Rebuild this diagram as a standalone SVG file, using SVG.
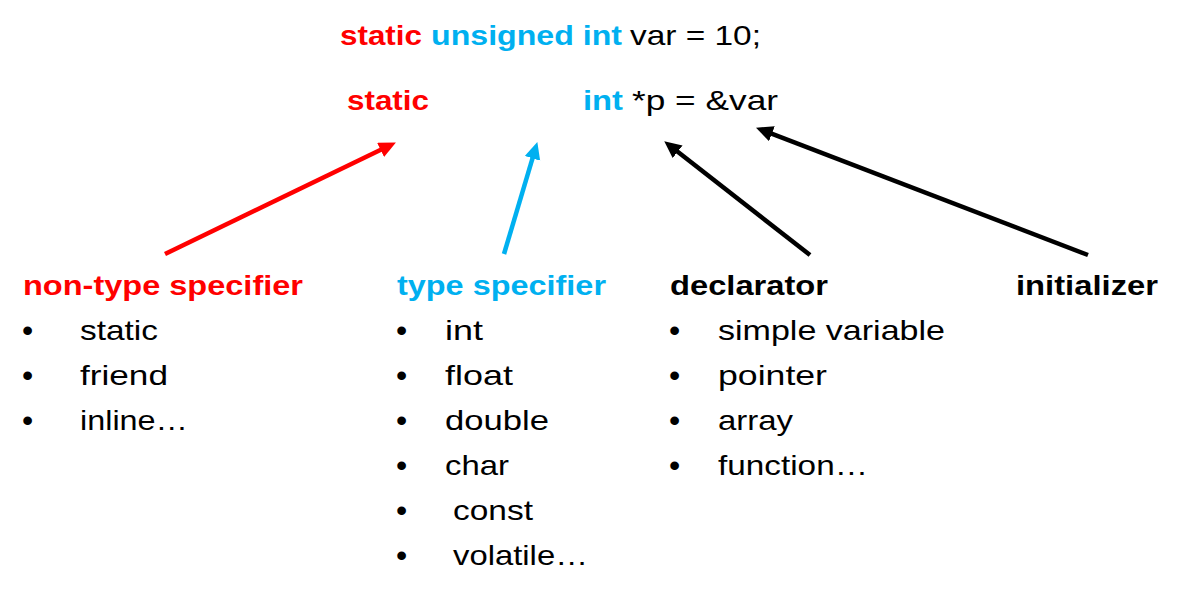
<svg xmlns="http://www.w3.org/2000/svg" width="1182" height="600" viewBox="0 0 1182 600">
<style>
text{font-family:"Liberation Sans","Open Sans",sans-serif;font-size:28px;fill:#000}
.b{font-weight:bold}
.r{fill:#FF0000}
.c{fill:#00B0F0}
.bu{font-size:32px}
.ln{stroke-width:4.5;fill:none}
</style>
<defs>
<marker id="ar" markerUnits="userSpaceOnUse" markerWidth="20" markerHeight="18" refX="6" refY="8" orient="auto"><path d="M0,0 L17,8 L0,16 z" fill="#FF0000"/></marker>
<marker id="ac" markerUnits="userSpaceOnUse" markerWidth="20" markerHeight="18" refX="6" refY="8" orient="auto"><path d="M0,0 L17,8 L0,16 z" fill="#00B0F0"/></marker>
<marker id="ak" markerUnits="userSpaceOnUse" markerWidth="20" markerHeight="18" refX="6" refY="8" orient="auto"><path d="M0,0 L17,8 L0,16 z" fill="#000"/></marker>
</defs>
<g id="line1">
<text x="340" y="45" class="b r" textLength="82" lengthAdjust="spacingAndGlyphs">static</text>
<text x="431" y="45" class="b c" textLength="191" lengthAdjust="spacingAndGlyphs">unsigned int</text>
<text x="630" y="45" textLength="131" lengthAdjust="spacingAndGlyphs">var = 10;</text>
</g>
<g id="line2">
<text x="347" y="110" class="b r" textLength="82" lengthAdjust="spacingAndGlyphs">static</text>
<text x="583" y="110" class="b c" textLength="40" lengthAdjust="spacingAndGlyphs">int</text>
<text x="632" y="110" textLength="146" lengthAdjust="spacingAndGlyphs">*p = &amp;var</text>
</g>
<g id="connectors">
<line class="ln" x1="165" y1="254" x2="386" y2="147.3" stroke="#FF0000" marker-end="url(#ar)"/>
<line class="ln" x1="504" y1="254" x2="534.2" y2="152.6" stroke="#00B0F0" marker-end="url(#ac)"/>
<line class="ln" x1="810" y1="255" x2="672.9" y2="148.1" stroke="#000" marker-end="url(#ak)"/>
<line class="ln" x1="1088" y1="255" x2="766.3" y2="131.6" stroke="#000" marker-end="url(#ak)"/>
</g>
<g id="nontype">
<text x="23" y="295" class="b r" textLength="280" lengthAdjust="spacingAndGlyphs">non-type specifier</text>
<text x="22" y="341" class="bu">•</text><text x="80" y="340" textLength="78" lengthAdjust="spacingAndGlyphs">static</text>
<text x="22" y="386" class="bu">•</text><text x="80" y="385" textLength="88" lengthAdjust="spacingAndGlyphs">friend</text>
<text x="22" y="431" class="bu">•</text><text x="80" y="430" textLength="108" lengthAdjust="spacingAndGlyphs">inline…</text>
</g>
<g id="type">
<text x="397" y="295" class="b c" textLength="209" lengthAdjust="spacingAndGlyphs">type specifier</text>
<text x="396" y="341" class="bu">•</text><text x="445" y="340" textLength="38" lengthAdjust="spacingAndGlyphs">int</text>
<text x="396" y="386" class="bu">•</text><text x="445" y="385" textLength="68" lengthAdjust="spacingAndGlyphs">float</text>
<text x="396" y="431" class="bu">•</text><text x="445" y="430" textLength="104" lengthAdjust="spacingAndGlyphs">double</text>
<text x="396" y="476" class="bu">•</text><text x="445" y="475" textLength="64" lengthAdjust="spacingAndGlyphs">char</text>
<text x="396" y="521" class="bu">•</text><text x="453" y="520" textLength="80" lengthAdjust="spacingAndGlyphs">const</text>
<text x="396" y="566" class="bu">•</text><text x="453" y="565" textLength="135" lengthAdjust="spacingAndGlyphs">volatile…</text>
</g>
<g id="declarator">
<text x="670" y="295" class="b" textLength="158" lengthAdjust="spacingAndGlyphs">declarator</text>
<text x="669" y="341" class="bu">•</text><text x="718" y="340" textLength="227" lengthAdjust="spacingAndGlyphs">simple variable</text>
<text x="669" y="386" class="bu">•</text><text x="718" y="385" textLength="109" lengthAdjust="spacingAndGlyphs">pointer</text>
<text x="669" y="431" class="bu">•</text><text x="718" y="430" textLength="75" lengthAdjust="spacingAndGlyphs">array</text>
<text x="669" y="476" class="bu">•</text><text x="718" y="475" textLength="150" lengthAdjust="spacingAndGlyphs">function…</text>
</g>
<g id="initializer">
<text x="1016" y="295" class="b" textLength="142" lengthAdjust="spacingAndGlyphs">initializer</text>
</g>
</svg>
